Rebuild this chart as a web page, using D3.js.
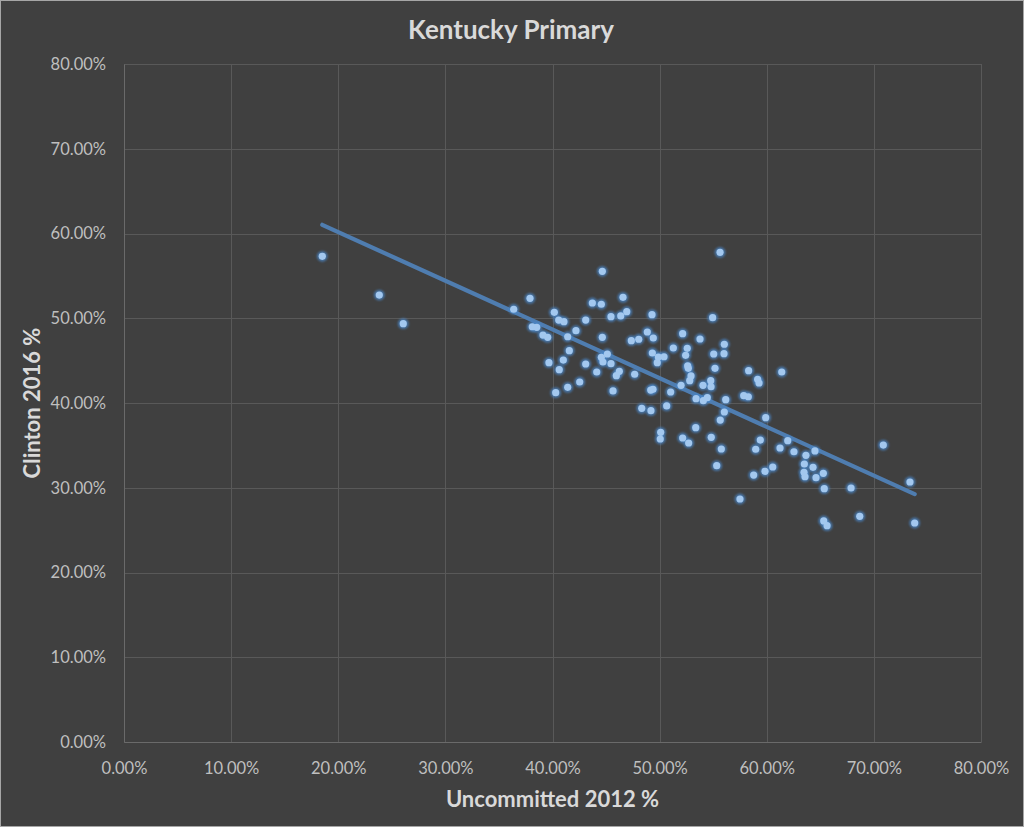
<!DOCTYPE html>
<html>
<head>
<meta charset="utf-8">
<script src="https://cdn.jsdelivr.net/npm/d3@7"></script>
<style>
  html, body { margin: 0; padding: 0; background: #404040; }
  svg { display: block; }
</style>
</head>
<body>
<svg id="chart" width="1024" height="827"></svg>
<script>
// ---- Data (percent values) ----
const chartTitle = "Kentucky Primary";
const xAxisTitle = "Uncommitted 2012 %";
const yAxisTitle = "Clinton 2016 %";
const xTicks = [0, 10, 20, 30, 40, 50, 60, 70, 80];
const yTicks = [0, 10, 20, 30, 40, 50, 60, 70, 80];

const uncommitted2012 = [
  18.51, 23.83, 26.07,
  55.64, 44.65, 37.90, 43.72, 44.56, 46.58, 36.38, 40.17, 40.58, 41.07,
  43.10, 45.46, 46.37, 46.93, 49.29, 54.95, 38.11, 38.53, 39.11, 39.55,
  41.42, 42.19, 44.65, 47.36, 48.05, 48.85, 49.41, 52.15, 53.77, 41.57,
  39.67, 41.01, 40.63, 43.10, 44.56, 45.12, 44.71, 45.46, 44.13, 46.24,
  45.96, 47.67, 42.54, 41.42, 40.30, 45.65, 49.32, 49.88, 50.41, 49.78,
  51.28, 52.58, 52.43, 52.62, 52.68, 52.93, 52.81, 55.05, 56.04, 56.01,
  55.17, 58.31, 54.77, 54.05, 54.80, 52.00, 51.03, 49.17, 49.38, 53.40,
  54.08, 54.45, 56.17, 57.85, 58.28, 56.04, 55.66, 48.33, 49.19, 50.66,
  50.10, 50.06, 52.15, 52.71, 53.37, 54.82, 55.76, 55.33,
  61.40, 59.15, 59.28, 59.90, 59.40, 58.97, 61.96, 61.24, 62.54, 63.66,
  64.50, 63.51, 64.32, 63.48, 63.57, 64.60, 65.28, 65.37, 67.87, 60.56,
  59.84, 58.78, 57.50, 65.32, 65.63, 68.68, 70.88, 73.37, 73.81
];
const clinton2016 = [
  57.31, 52.74, 49.36,
  57.78, 55.54, 52.35, 51.80, 51.65, 52.47, 51.06, 50.70, 49.79, 49.59,
  49.79, 50.18, 50.27, 50.77, 50.42, 50.07, 49.00, 48.93, 48.02, 47.75,
  47.82, 48.53, 47.75, 47.35, 47.52, 48.38, 47.67, 48.18, 47.55, 46.17,
  44.76, 45.07, 43.93, 44.60, 45.39, 45.78, 44.84, 44.64, 43.66, 43.74,
  43.22, 43.39, 42.48, 41.85, 41.22, 41.42, 45.90, 45.43, 45.46, 44.76,
  46.49, 46.45, 45.63, 44.37, 44.09, 43.19, 42.63, 45.78, 46.93, 45.82,
  44.09, 43.81, 42.63, 42.09, 41.92, 42.09, 41.30, 41.53, 41.62, 40.51,
  40.27, 40.63, 40.39, 40.86, 40.74, 38.94, 37.99, 39.37, 39.09, 39.65,
  36.54, 35.75, 35.87, 35.28, 37.09, 35.95, 34.57, 32.60,
  43.66, 42.80, 42.36, 38.27, 35.63, 34.54, 35.55, 34.69, 34.25, 33.83,
  34.34, 32.80, 32.41, 31.82, 31.30, 31.19, 31.70, 29.89, 29.97, 32.45,
  31.94, 31.50, 28.67, 26.08, 25.52, 26.63, 35.04, 30.68, 25.84
];

// ---- Layout ----
const W = 1024, H = 827;
const plot = { left: 124, right: 981, top: 64, bottom: 742 };
const FONT = "Lato, 'Open Sans', sans-serif";
const svg = d3.select("#chart");

svg.append("rect").attr("x", 0.5).attr("y", 0.5).attr("width", W - 1).attr("height", H - 1)
  .attr("fill", "#404040").attr("stroke", "#a6a6a6").attr("stroke-width", 1);

const x = d3.scaleLinear().domain([0, 80]).range([plot.left, plot.right]);
const y = d3.scaleLinear().domain([0, 80]).range([plot.bottom, plot.top]);
const fmt = d => d3.format(".2f")(d) + "%";

const defs = svg.append("defs");
const glow = defs.append("filter").attr("id", "glow")
  .attr("x", "-100%").attr("y", "-100%").attr("width", "300%").attr("height", "300%");
glow.append("feGaussianBlur").attr("stdDeviation", 1.3);

// Gridlines
const grid = svg.append("g");
grid.selectAll("line.v").data(xTicks).join("line")
  .attr("x1", d => Math.round(x(d)) + 0.5).attr("x2", d => Math.round(x(d)) + 0.5)
  .attr("y1", plot.top).attr("y2", plot.bottom)
  .attr("stroke", "#595959").attr("stroke-width", 1);
grid.selectAll("line.h").data(yTicks).join("line")
  .attr("y1", d => Math.round(y(d)) + 0.5).attr("y2", d => Math.round(y(d)) + 0.5)
  .attr("x1", plot.left).attr("x2", plot.right)
  .attr("stroke", "#595959").attr("stroke-width", 1);

// Axes (labels via d3 axes)
const xAxis = svg.append("g").attr("transform", `translate(0,${plot.bottom})`)
  .call(d3.axisBottom(x).tickValues(xTicks).tickFormat(fmt).tickSize(0).tickPadding(20));
const yAxis = svg.append("g").attr("transform", `translate(${plot.left},0)`)
  .call(d3.axisLeft(y).tickValues(yTicks).tickFormat(fmt).tickSize(0).tickPadding(18));
[xAxis, yAxis].forEach(a => {
  a.select(".domain").attr("stroke", "#6a6a6a");
  a.selectAll("text").attr("fill", "#bfbfbf")
    .style("font-family", FONT).style("font-size", "16.5px");
});

// Trendline (least squares fit)
const n = uncommitted2012.length;
const mx = d3.mean(uncommitted2012), my = d3.mean(clinton2016);
let sxy = 0, sxx = 0;
for (let i = 0; i < n; i++) {
  sxy += (uncommitted2012[i] - mx) * (clinton2016[i] - my);
  sxx += (uncommitted2012[i] - mx) ** 2;
}
const slope = sxy / sxx, icpt = my - slope * mx;
const [x0, x1] = d3.extent(uncommitted2012);
svg.append("line")
  .attr("x1", x(x0)).attr("y1", y(icpt + slope * x0))
  .attr("x2", x(x1)).attr("y2", y(icpt + slope * x1))
  .attr("stroke", "#4f7db0").attr("stroke-width", 4.2).attr("stroke-linecap", "round");

// Points
const pts = d3.range(n).map(i => ({ u: uncommitted2012[i], c: clinton2016[i] }));
svg.append("g").selectAll("circle").data(pts).join("circle")
  .attr("cx", d => x(d.u)).attr("cy", d => y(d.c)).attr("r", 5.4)
  .attr("fill", "#4a86c8").attr("opacity", 0.75).attr("filter", "url(#glow)");
svg.append("g").selectAll("circle").data(pts).join("circle")
  .attr("cx", d => x(d.u)).attr("cy", d => y(d.c)).attr("r", 3.6)
  .attr("fill", "#a3c8ef");

// Titles
svg.append("text").attr("x", 511).attr("y", 39).attr("text-anchor", "middle")
  .attr("fill", "#d9d9d9").style("font-family", FONT)
  .style("font-size", "26px").style("font-weight", "bold").text(chartTitle);
svg.append("text").attr("x", (plot.left + plot.right) / 2).attr("y", 807).attr("text-anchor", "middle")
  .attr("fill", "#d9d9d9").style("font-family", FONT)
  .style("font-size", "22px").style("font-weight", "bold").text(xAxisTitle);
svg.append("text").attr("transform", `translate(40,${(plot.top + plot.bottom) / 2}) rotate(-90)`)
  .attr("text-anchor", "middle")
  .attr("fill", "#d9d9d9").style("font-family", FONT)
  .style("font-size", "22px").style("font-weight", "bold").text(yAxisTitle);
</script>
</body>
</html>
